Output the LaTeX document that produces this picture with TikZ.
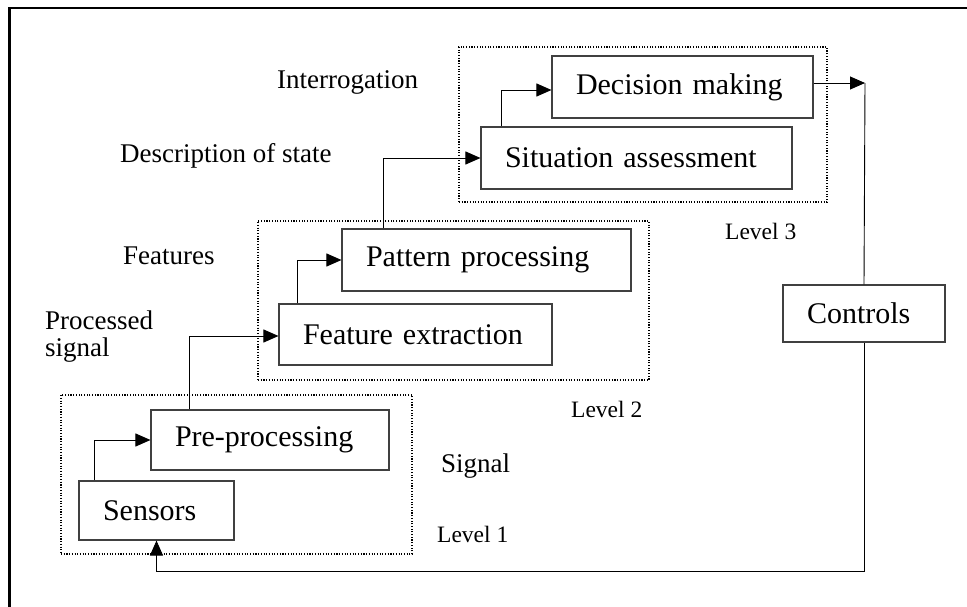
\documentclass[tikz,border=0pt]{standalone}
\usepackage{fontspec}
\setmainfont{Liberation Serif}
\usetikzlibrary{arrows.meta}
\begin{document}
\begin{tikzpicture}[x=1pt,y=-1pt,
  procbox/.style={draw=black!75,line width=1.1pt,fill=white,inner xsep=24pt,inner ysep=0pt,
    align=left,font=\fontsize{30}{36}\selectfont,anchor=center},
  levelbox/.style={draw=black,line width=1.3pt,dash pattern=on 1.1pt off 1.6pt,minimum width=#1,inner sep=0pt,anchor=center},
  lbl/.style={inner sep=0pt,anchor=base west,font=\fontsize{27}{27}\selectfont},
  lvl/.style={inner sep=0pt,anchor=base west,font=\fontsize{23.5}{24}\selectfont},
  arr/.style={draw=black,line width=0.9pt,-{Triangle[length=15pt,width=13pt]}},
  ln/.style={draw=black,line width=0.9pt}]
\useasboundingbox (0,0) rectangle (967,607);
\fill[white] (0,0) rectangle (967,607);
\draw[line width=2.3pt] (9.5,607) -- (9.5,8) -- (967,8);
% level frames
\node[levelbox=368pt,minimum height=155pt] (l3) at (643,124.5) {};
\node[levelbox=391pt,minimum height=159pt] (l2) at (453.5,300.5) {};
\node[levelbox=351pt,minimum height=159pt] (l1) at (236.5,474.5) {};
% boxes
\node[procbox,text width=213pt,minimum height=62pt] (dm) at (682.5,87) {Decision making};
\node[procbox,text width=263pt,minimum height=62pt] (sa) at (636.5,158) {Situation assessment};
\node[procbox,text width=241pt,minimum height=62pt] (pp) at (486.5,260) {Pattern processing};
\node[procbox,text width=225pt,minimum height=61pt] (fe) at (415.5,334.5) {Feature extraction};
\node[procbox,text width=190pt,minimum height=60pt] (pre) at (270,440) {Pre-processing};
\node[procbox,text width=107pt,minimum height=59pt] (sen) at (156.5,510.5) {Sensors};
\node[procbox,text width=114pt,minimum height=57pt] (ctl) at (864,313.5) {Controls};
% labels
\node[lbl] (tint) at (277,89) {Interrogation};
\node[lbl] (tdesc) at (120,163) {Description of state};
\node[lbl] (tfeat) at (123,264) {Features};
\node[lbl,anchor=north west,align=left] (tproc) at (45,311) {Processed\\signal};
\node[lbl] (tsig) at (441,472) {Signal};
\node[lvl] (tl1) at (437,542) {Level 1};
\node[lvl] (tl2) at (571,417) {Level 2};
\node[lvl] (tl3) at (725,239) {Level 3};
% connectors
\coordinate (tip) at (865,83);
\draw[arr] ([xshift=16pt]sen.north west) |- (pre.west);
\draw[arr] ([xshift=39pt]pre.north west) |- ([yshift=-1.5pt]fe.west);
\draw[arr] ([xshift=19pt]fe.north west) |- (pp.west);
\draw[arr] ([xshift=42pt]pp.north west) |- (sa.west);
\draw[arr] ([xshift=21pt]sa.north west) |- ([yshift=-3pt]dm.west);
\draw[arr] (dm.east |- tip) -- (tip);
\draw[ln] (tip) -- (ctl.north);
\draw[arr] (ctl.south) |- ([yshift=-31pt]sen.south) -- (sen.south);
\end{tikzpicture}
\end{document}
